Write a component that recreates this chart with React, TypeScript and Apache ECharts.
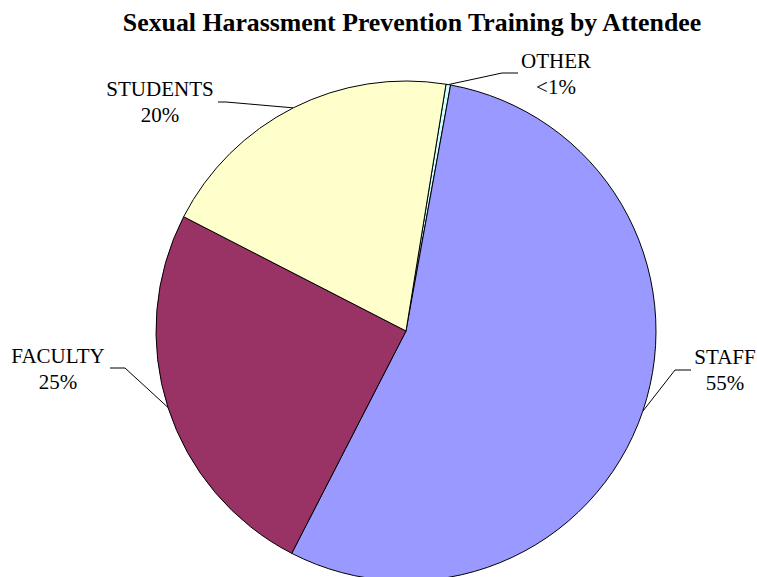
import React, { useEffect, useRef } from "react";
import * as echarts from "echarts";

const titleText = "Sexual Harassment Prevention Training by Attendee";
const categories = ["OTHER", "STAFF", "FACULTY", "STUDENTS"];
const values = [0.3, 54.7, 25, 20];
const pctLabels = ["<1%", "55%", "25%", "20%"];
const colors = ["#CCFFFF", "#9999FF", "#993366", "#FFFFCC"];

const FONT = "'Liberation Serif', 'Times New Roman', 'DejaVu Serif', serif";

// label anchor (text centre) and knee/end of the leader line, per category
const labelAnchors = [
  { x: 556, y: 74, knee: [502, 73], end: [518, 73] },
  { x: 725, y: 370, knee: [675, 370], end: [691, 370] },
  { x: 58, y: 369, knee: [125, 368], end: [110, 368] },
  { x: 160, y: 102, knee: [226, 102], end: [218, 102] },
];

export default function App() {
  const ref = useRef<HTMLDivElement>(null);
  useEffect(() => {
    if (!ref.current) return;
    const chart = echarts.init(ref.current, null, { renderer: "svg" });
    chart.setOption({
      animation: false,
      backgroundColor: "#ffffff",
      title: {
        text: titleText,
        left: 407,
        textAlign: "center",
        top: 4,
        textStyle: {
          fontFamily: FONT,
          fontWeight: "bold",
          fontSize: 25.8,
          color: "#000",
        },
      },
      series: [
        {
          type: "pie",
          center: [406, 331],
          radius: 250,
          startAngle: 80.8,
          clockwise: true,
          avoidLabelOverlap: false,
          data: categories.map((c, i) => ({
            name: c,
            value: values[i],
            itemStyle: { color: colors[i] },
          })),
          itemStyle: { borderColor: "#000", borderWidth: 1 },
          label: {
            show: true,
            position: "outside",
            formatter: (p: any) => `${p.name}\n${pctLabels[p.dataIndex]}`,
            fontFamily: FONT,
            fontSize: 21,
            lineHeight: 26,
            color: "#000",
            align: "center",
          },
          labelLine: {
            show: true,
            smooth: false,
            lineStyle: { color: "#000", width: 1 },
          },
          labelLayout: (params: any) => {
            const a = labelAnchors[params.dataIndex];
            const start =
              params.labelLinePoints && params.labelLinePoints[0]
                ? params.labelLinePoints[0]
                : a.knee;
            return {
              x: a.x,
              y: a.y,
              align: "center",
              verticalAlign: "middle",
              labelLinePoints: [start, a.knee, a.end],
            };
          },
          emphasis: { disabled: true },
        },
      ],
    });
    return () => chart.dispose();
  }, []);
  return (
    <div
      ref={ref}
      style={{ position: "absolute", left: 0, top: 0, width: 757, height: 577 }}
    />
  );
}
